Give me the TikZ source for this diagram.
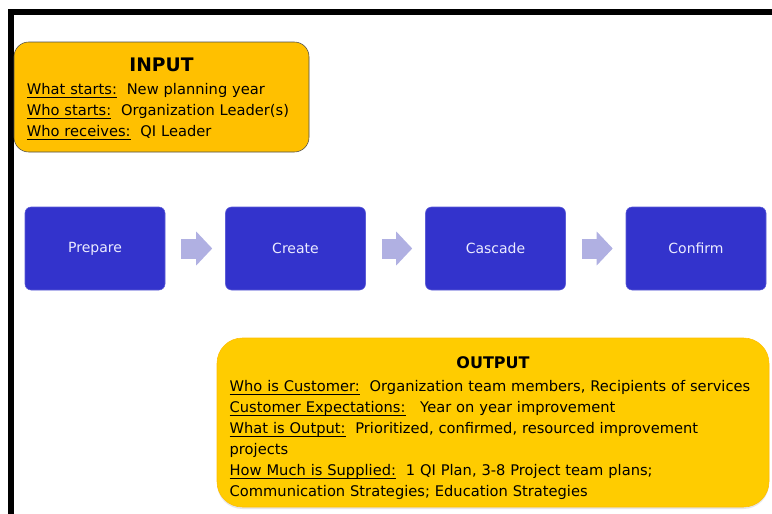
\documentclass[tikz,border=0pt]{standalone}
\usepackage{fontspec}
\setmainfont{DejaVu Sans}
\usetikzlibrary{arrows.meta,shadows}
\definecolor{stepblue}{RGB}{51,51,204}
\definecolor{steptext}{RGB}{236,236,255}
\definecolor{flowarrow}{RGB}{176,176,226}
\definecolor{infill}{RGB}{255,192,0}
\definecolor{outfill}{RGB}{255,204,0}
\tikzset{
  stepbox/.style={draw=stepblue!80!white, fill=stepblue, rounded corners=4.5pt, text=steptext,
    minimum width=105pt, minimum height=62.25pt, font=\fontsize{10.5}{13}\selectfont},
  flow/.style={draw=flowarrow, line width=15pt, -{Triangle[length=12pt,width=24.75pt,fill=flowarrow]}},
  infobox/.style={rounded corners=#1, align=left, inner xsep=9.5pt,
    font=\fontsize{11}{15.75}\selectfont}
}
% title size, strut height, title
\newcommand{\boxtitle}[3]{\makebox[\linewidth][c]{\rule{0pt}{#2}\fontsize{#1}{15}\selectfont\bfseries #3}\\[1.5pt]}
\newcommand{\uln}[1]{\leavevmode\setbox0\hbox{#1}\rlap{\rule[-1.8pt]{\wd0}{0.5pt}}\box0}
\begin{document}
\begin{tikzpicture}[x=0.75pt,y=-0.75pt]
  \useasboundingbox (0,0) rectangle (772,514);
  \draw [line width=4.5pt] (772,12) -- (10.5,12) -- (10.5,514);

  \node [infobox=11pt, draw=black!70, fill=infill, text width=202pt,
    minimum width=221.25pt, minimum height=82.5pt] (input) at (161.5,97)
    {\boxtitle{14}{13pt}{INPUT}
     \uln{What starts:}~~New planning year\\
     \uln{Who starts:}~~Organization Leader(s)\\
     \uln{Who receives:}~~QI Leader};

  \node [stepbox] (prepare) at (95,248.5) {Prepare};
  \node [stepbox] (create) at (295.5,248.5) {Create};
  \node [stepbox] (cascade) at (495.5,248.5) {Cascade};
  \node [stepbox] (confirm) at (696,248.5) {Confirm};

  \draw [flow] ([xshift=12pt]prepare.east) to ([xshift=-9.75pt]create.west);
  \draw [flow] ([xshift=12pt]create.east) to ([xshift=-9.75pt]cascade.west);
  \draw [flow] ([xshift=12pt]cascade.east) to ([xshift=-9.75pt]confirm.west);

  \node [infobox=19pt, draw=outfill!80!orange, fill=outfill, text width=395pt,
    minimum width=412.5pt, minimum height=126.75pt,
    drop shadow={opacity=0.2, shadow xshift=0pt, shadow yshift=-1.5pt}] (output) at (493,422.5)
    {\boxtitle{12}{18pt}{OUTPUT}
     \uln{Who is Customer:}~~Organization team members, Recipients of services\\
     \uln{Customer Expectations:}~~~Year on year improvement\\
     \uln{What is Output:}~~Prioritized, confirmed, resourced improvement\\
     projects\\
     \uln{How Much is Supplied:}~~1 QI Plan, 3-8 Project team plans;\\
     Communication Strategies; Education Strategies};
\end{tikzpicture}
\end{document}
